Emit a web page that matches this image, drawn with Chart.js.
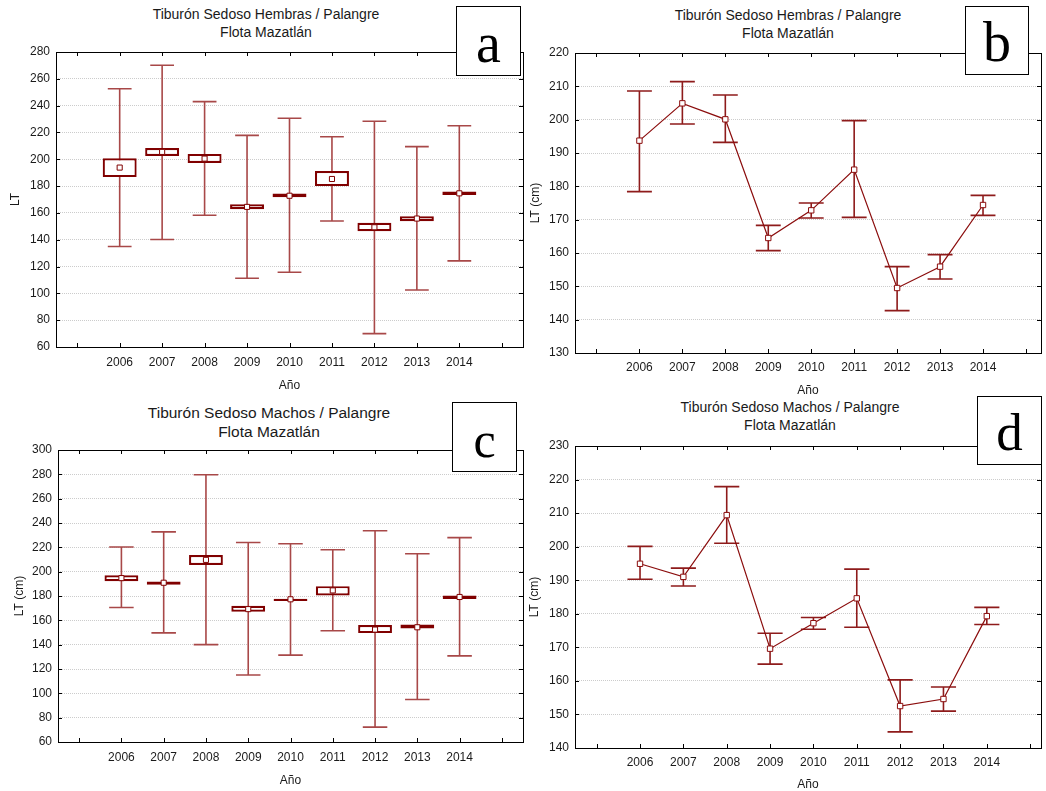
<!DOCTYPE html>
<html><head><meta charset="utf-8">
<script src="https://cdn.jsdelivr.net/npm/chart.js@4.4.1/dist/chart.umd.min.js"></script>
<style>
html,body{margin:0;padding:0;background:#fff;}
body{width:1046px;height:791px;position:relative;overflow:hidden;font-family:"Liberation Sans",Arial,sans-serif;color:#1a1a1a;}
canvas{position:absolute;}
.title{position:absolute;width:400px;text-align:center;white-space:nowrap;color:#1a1a1a;}
.tag{position:absolute;box-sizing:border-box;border:1.5px solid #000;background:#fff;font-family:"Liberation Serif","Times New Roman",serif;text-align:center;color:#000;overflow:hidden;}
</style></head><body>
<div class="title" style="left:66px;top:6.4px;font-size:14px;line-height:17.6px;">Tiburón Sedoso Hembras / Palangre<br>Flota Mazatlán</div>
<div class="title" style="left:588px;top:6px;font-size:14px;line-height:18.4px;">Tiburón Sedoso Hembras / Palangre<br>Flota Mazatlán</div>
<div class="title" style="left:69px;top:402.8px;font-size:15.5px;line-height:19.6px;">Tiburón Sedoso Machos / Palangre<br>Flota Mazatlán</div>
<div class="title" style="left:590px;top:399px;font-size:14px;line-height:17.5px;">Tiburón Sedoso Machos / Palangre<br>Flota Mazatlán</div>
<script>
// ---------- data ----------
const years = ['2006','2007','2008','2009','2010','2011','2012','2013','2014'];
const xTickLabels = ['', '2006','2007','2008','2009','2010','2011','2012','2013','2014', ''];
const xTickPos = [0,1,2,3,4,5,6,7,8,9,10];
const yearPos = [1,2,3,4,5,6,7,8,9];

// (a) Hembras: mean, box (mean ± SE), whiskers
const aMean     = [193.8, 205.5, 200.5, 164.5, 172.8, 185.3, 149.3, 155.8, 174.6];
const aBoxLow   = [186.7, 202.5, 197.3, 162.7, 171.6, 180.0, 146.3, 153.8, 173.3];
const aBoxHigh  = [200.8, 208.4, 204.0, 166.4, 174.5, 191.3, 152.6, 157.5, 175.9];
const aWhiskLow = [135.0, 140.2, 158.3, 111.3, 115.7, 154.0, 70.0, 102.5, 124.2];
const aWhiskHigh= [252.6, 270.1, 243.0, 217.8, 230.6, 216.8, 228.4, 209.4, 225.0];

// (b) Hembras: mean with interval
const bMean = [193.7, 204.9, 200.1, 164.5, 172.8, 185.0, 149.5, 155.9, 174.4];
const bHigh = [208.6, 211.4, 207.4, 168.3, 175.0, 199.7, 155.9, 159.5, 177.3];
const bLow  = [178.4, 198.7, 193.2, 160.7, 170.5, 170.7, 142.7, 152.2, 171.3];

// (c) Machos: mean, box, whiskers
const cMean     = [194.7, 190.9, 209.7, 169.2, 177.3, 184.6, 152.4, 154.3, 179.2];
const cBoxLow   = [192.2, 189.2, 205.5, 167.0, 175.9, 180.5, 149.5, 153.3, 177.6];
const cBoxHigh  = [197.0, 192.0, 213.6, 171.9, 177.8, 188.1, 156.2, 156.5, 180.5];
const cWhiskLow = [170.5, 149.7, 140.0, 115.1, 131.4, 151.4, 72.2, 94.9, 130.8];
const cWhiskHigh= [220.3, 232.7, 279.7, 224.0, 223.0, 218.0, 233.6, 214.7, 228.0];

// (d) Machos: mean with interval
const dMean = [194.9, 191.0, 209.4, 169.6, 177.2, 184.6, 152.5, 154.6, 179.3];
const dHigh = [200.1, 193.6, 217.9, 174.2, 178.9, 193.3, 160.3, 158.2, 181.9];
const dLow  = [190.3, 188.3, 201.0, 165.0, 175.4, 176.0, 144.8, 151.0, 176.8];

// ---------- styles ----------
const FONT = '"Liberation Sans", Arial, sans-serif';
const TXT = '#1a1a1a';
const DARK = '#800000';
const WHISK = '#a84848';
const ERR = '#8e1b1b';
const LINE = '#8b0d0d';
const GRID = 'rgba(0,0,0,0.2)';

function makePanel(p){
  const cv = document.createElement('canvas');
  cv.width = p.w; cv.height = p.h;
  cv.style.left = p.left + 'px'; cv.style.top = p.top + 'px';
  cv.style.width = p.w + 'px'; cv.style.height = p.h + 'px';
  document.body.appendChild(cv);

  const datasets = [];
  if (p.kind === 'box') {
    datasets.push({type:'scatter', data: yearPos.map((x,i)=>({x:x, y:p.mean[i]})),
      pointStyle:'rect', pointRadius:3.6, pointBackgroundColor:'#fff', pointBorderColor:DARK,
      pointBorderWidth:1, order:0});
    datasets.push({type:'bar', data: yearPos.map((x,i)=>({x:x, y:[p.boxLow[i], p.boxHigh[i]]})),
      backgroundColor:'#fff', borderColor:DARK, borderWidth:2.2, borderSkipped:false,
      categoryPercentage:1, barPercentage:0.8, order:1});
  } else {
    datasets.push({type:'line', data: yearPos.map((x,i)=>({x:x, y:p.mean[i]})),
      borderColor:LINE, borderWidth:1.2, tension:0, fill:false,
      pointStyle:'rect', pointRadius:3.8, pointBackgroundColor:'#fff', pointBorderColor:LINE,
      pointBorderWidth:1, order:0});
  }

  const framePlugin = {
    id: 'frame',
    beforeDatasetsDraw(chart){
      const ctx = chart.ctx, xs = chart.scales.x, ys = chart.scales.y;
      const step = xs.getPixelForValue(1) - xs.getPixelForValue(0);
      const cap = step * p.capFrac;
      ctx.save();
      ctx.strokeStyle = p.kind === 'box' ? WHISK : ERR;
      ctx.lineWidth = 1.6;
      yearPos.forEach((pos,i)=>{
        const px = xs.getPixelForValue(pos);
        const yT = ys.getPixelForValue(p.hi[i]);
        const yB = ys.getPixelForValue(p.lo[i]);
        ctx.beginPath();
        ctx.moveTo(px, yT); ctx.lineTo(px, yB);
        ctx.moveTo(px-cap, yT); ctx.lineTo(px+cap, yT);
        ctx.moveTo(px-cap, yB); ctx.lineTo(px+cap, yB);
        ctx.stroke();
      });
      ctx.restore();
    },
    afterDraw(chart){
      const ctx = chart.ctx, a = chart.chartArea, xs = chart.scales.x, ys = chart.scales.y;
      ctx.save();
      ctx.strokeStyle = '#000';
      ctx.lineWidth = 1;
      ctx.strokeRect(Math.round(a.left)+0.5, Math.round(a.top)+0.5, Math.round(a.right-a.left), Math.round(a.bottom-a.top));
      ctx.beginPath();
      const tl = 4;
      xTickPos.forEach(v=>{
        const px = Math.round(xs.getPixelForValue(v))+0.5;
        ctx.moveTo(px, a.bottom); ctx.lineTo(px, a.bottom-tl);
        ctx.moveTo(px, a.top); ctx.lineTo(px, a.top+tl);
      });
      ys.ticks.forEach(t=>{
        const py = Math.round(ys.getPixelForValue(t.value))+0.5;
        ctx.moveTo(a.left, py); ctx.lineTo(a.left+tl, py);
        ctx.moveTo(a.right, py); ctx.lineTo(a.right-tl, py);
      });
      ctx.stroke();
      ctx.restore();
    }
  };

  return new Chart(cv, {
    type: p.kind === 'box' ? 'bar' : 'line',
    data: { datasets },
    options: {
      responsive:false, animation:false, devicePixelRatio:1,
      layout:{padding:{left:0, top:p.area.T, right:p.w - p.area.R, bottom:0}},
      plugins:{legend:{display:false}, tooltip:{enabled:false}, title:{display:false}},
      scales:{
        x:{ type:'linear', min:-0.5, max:p.xMax, offset:false,
          afterBuildTicks: s => { s.ticks = xTickPos.map(v=>({value:v})); },
          afterFit: s => { s.height = p.h - p.area.B; },
          grid:{display:false, drawTicks:false}, border:{display:false},
          ticks:{autoSkip:false, maxRotation:0, padding:p.xTickPad, color:TXT,
            font:{size:12, family:FONT}, callback: v => xTickLabels[Math.round(v)] ?? ''},
          title:{display:true, text:'Año', color:TXT, font:{size:12, family:FONT},
            padding:{top:0, bottom:p.xTitlePad}}
        },
        y:{ type:'linear', min:p.yMin, max:p.yMax,
          afterFit: s => { s.width = p.area.L; },
          grid:{color:GRID, drawTicks:false, lineWidth:1},
          border:{display:false, dash:[1,1]},
          ticks:{stepSize:p.yStep, padding:6, color:TXT, font:{size:12, family:FONT}},
          title:{display:true, text:p.yTitle, color:TXT, font:{size:12, family:FONT},
            padding:{top:p.yTitlePad, bottom:0}}
        }
      }
    },
    plugins:[framePlugin]
  });
}

makePanel({kind:'box', left:0, top:0, w:530, h:395, area:{L:56, R:523, T:52, B:347},
  yMin:60, yMax:280, yStep:20, yTitle:'LT', yTitlePad:8, xTitlePad:2.4, xTickPad:8, xMax:10.5,
  mean:aMean, boxLow:aBoxLow, boxHigh:aBoxHigh, lo:aWhiskLow, hi:aWhiskHigh, capFrac:0.28});
makePanel({kind:'line', left:526, top:0, w:520, h:395, area:{L:49, R:517, T:53, B:353},
  yMin:130, yMax:220, yStep:10, yTitle:'LT (cm)', yTitlePad:2.3, xTitlePad:-2.5, xTickPad:7, xMax:10.35,
  mean:bMean, lo:bLow, hi:bHigh, capFrac:0.29});
makePanel({kind:'box', left:0, top:395, w:530, h:396, area:{L:58, R:523, T:55, B:347},
  yMin:60, yMax:300, yStep:20, yTitle:'LT (cm)', yTitlePad:12, xTitlePad:2.8, xTickPad:8, xMax:10.5,
  mean:cMean, boxLow:cBoxLow, boxHigh:cBoxHigh, lo:cWhiskLow, hi:cWhiskHigh, capFrac:0.29});
makePanel({kind:'line', left:526, top:395, w:520, h:396, area:{L:49, R:517, T:51, B:353},
  yMin:140, yMax:230, yStep:10, yTitle:'LT (cm)', yTitlePad:1.8, xTitlePad:-0.8, xTickPad:7, xMax:10.25,
  mean:dMean, lo:dLow, hi:dHigh, capFrac:0.29});
</script>
<div class="tag" style="left:456px;top:6px;width:65px;height:70px;font-size:56px;line-height:72px;">a</div>
<div class="tag" style="left:965px;top:6px;width:64px;height:69px;font-size:56px;line-height:71px;">b</div>
<div class="tag" style="left:452px;top:402px;width:65px;height:70px;font-size:50px;line-height:74px;">c</div>
<div class="tag" style="left:977px;top:396px;width:65px;height:69px;font-size:53px;line-height:70px;">d</div>
</body></html>
